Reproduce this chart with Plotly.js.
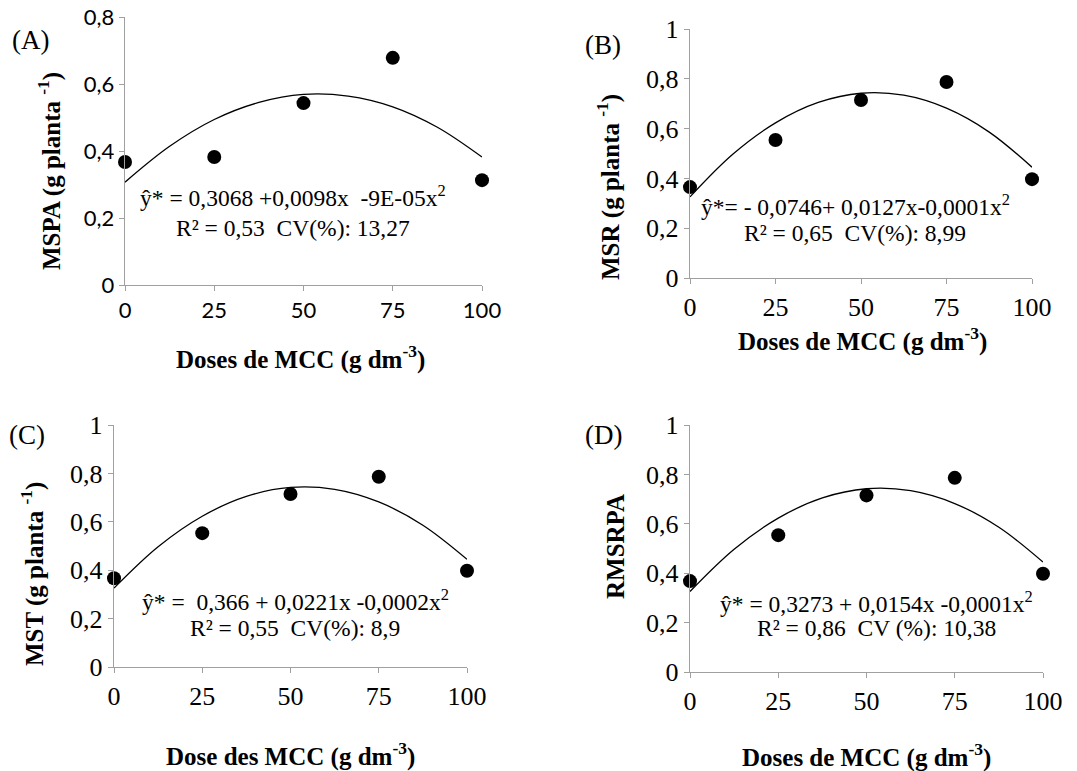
<!DOCTYPE html>
<html>
<head>
<meta charset="utf-8">
<script src="https://cdn.plot.ly/plotly-3.0.1.min.js"></script>
<style>html,body{margin:0;padding:0;background:#fff;}#chart{width:1077px;height:771px;}</style>
</head>
<body>
<div id="chart"></div>
<script>
// Doses (g dm-3)
const doses = [0, 25, 50, 75, 100];
const mspa = [0.367, 0.382, 0.543, 0.678, 0.313];
const msr = [0.365, 0.554, 0.715, 0.787, 0.397];
const mst = [0.367, 0.553, 0.715, 0.786, 0.398];
const rmsrpa = [0.368, 0.554, 0.715, 0.786, 0.398];
// Fitted trend curves at these doses
const curveX = [0, 12.5, 25, 37.5, 50, 62.5, 75, 87.5, 100];
const curveA = [0.307, 0.414, 0.494, 0.545, 0.569, 0.564, 0.532, 0.471, 0.382];
const curveB = [0.326, 0.497, 0.623, 0.705, 0.742, 0.734, 0.682, 0.586, 0.445];
const curveC = [0.326, 0.497, 0.623, 0.705, 0.742, 0.734, 0.682, 0.586, 0.445];
const curveD = [0.326, 0.497, 0.623, 0.705, 0.742, 0.734, 0.682, 0.586, 0.445];
// Texts
const panelLabels = ['(A)', '(B)', '(C)', '(D)'];
const yTitles = ['MSPA (g planta <sup>-1</sup>)', 'MSR (g planta <sup>-1</sup>)', 'MST (g planta <sup>-1</sup>)', 'RMSRPA'];
const xTitles = ['Doses de MCC (g dm<sup>-3</sup>)', 'Doses de MCC (g dm<sup>-3</sup>)', 'Dose des MCC (g dm<sup>-3</sup>)', 'Doses de MCC (g dm<sup>-3</sup>)'];
const eqLines = ['ŷ* = 0,3068 +0,0098x &nbsp;-9E-05x<sup>2</sup>', 'ŷ*= - 0,0746+ 0,0127x-0,0001x<sup>2</sup>', 'ŷ* = &nbsp;0,366 + 0,0221x -0,0002x<sup>2</sup>', 'ŷ* = 0,3273 + 0,0154x -0,0001x<sup>2</sup>'];
const statLines = ['R² = 0,53 &nbsp;CV(%): 13,27', 'R² = 0,65 &nbsp;CV(%): 8,99', 'R² = 0,55 &nbsp;CV(%): 8,9', 'R² = 0,86 &nbsp;CV (%): 10,38'];
const xTicks = [0, 25, 50, 75, 100];

const serif = 'Liberation Serif';
const sans = 'Lato';

const obs = [mspa, msr, mst, rmsrpa];
const curves = [curveA, curveB, curveC, curveD];
const data = [];
for (let i = 0; i < 4; i++) {
  const xa = i === 0 ? 'x' : 'x' + (i + 1);
  const ya = i === 0 ? 'y' : 'y' + (i + 1);
  data.push({x: curveX, y: curves[i], xaxis: xa, yaxis: ya, type: 'scatter', mode: 'lines',
    line: {color: '#000', width: 1.3, shape: 'spline', smoothing: 1}, hoverinfo: 'skip', showlegend: false, cliponaxis: false});
  data.push({x: doses, y: obs[i], xaxis: xa, yaxis: ya, type: 'scatter', mode: 'markers',
    marker: {color: '#000', size: 14}, showlegend: false, cliponaxis: false});
}

const W = 1077, H = 771;
// pixel boxes [left, right, top, bottom]
const boxes = [[125, 482, 17, 285], [690, 1032, 29, 278], [114, 467, 425, 667], [690, 1043, 425, 672]];
const yRanges = [[0, 0.8], [0, 1], [0, 1], [0, 1]];
const tickFonts = [sans, serif, serif, serif];
const tickSizes = [22, 26, 26, 26];

const layout = {width: W, height: H, margin: {l: 0, r: 0, t: 0, b: 0}, paper_bgcolor: '#fff', plot_bgcolor: '#fff',
  separators: ',.', showlegend: false, annotations: []};
for (let i = 0; i < 4; i++) {
  const b = boxes[i];
  const sx = i === 0 ? '' : String(i + 1);
  layout['xaxis' + sx] = {domain: [b[0] / W, b[1] / W], anchor: 'y' + sx, range: [0, 100], tickvals: xTicks,
    ticks: 'outside', ticklen: 5, tickcolor: '#a0a0a0', showline: true, linecolor: '#a0a0a0', linewidth: 1.3,
    showgrid: false, zeroline: false,
    tickfont: {family: tickFonts[i], size: tickSizes[i], color: '#000'}};
  layout['yaxis' + sx] = {domain: [1 - b[3] / H, 1 - b[2] / H], anchor: 'x' + sx, range: yRanges[i], dtick: 0.2,
    ticks: 'outside', ticklen: 5, tickcolor: '#a0a0a0', showline: true, linecolor: '#a0a0a0', linewidth: 1.3,
    showgrid: false, zeroline: false,
    tickfont: {family: tickFonts[i], size: tickSizes[i], color: '#000'}};
}
// axis titles, panel letters and equation texts (pixel centres)
const xTitlePos = [[300, 357], [862, 339], [290, 754], [866, 755]];
const yTitlePos = [[49, 171], [608, 187], [32, 574], [615, 547]];
const labelPos = [[30, 40], [603, 45], [27, 435], [603, 435]];
const eqPos = [[293, 196], [855, 205], [295, 600], [876, 602]];
const statPos = [[293, 228], [855, 233], [295, 628], [876, 628]];
const P = (p) => ({xref: 'paper', yref: 'paper', x: p[0] / W, y: 1 - p[1] / H, showarrow: false, xanchor: 'center', yanchor: 'middle'});
for (let i = 0; i < 4; i++) {
  layout.annotations.push(Object.assign(P(xTitlePos[i]), {text: xTitles[i], font: {family: serif, size: 25, color: '#000', weight: 'bold'}}));
  layout.annotations.push(Object.assign(P(yTitlePos[i]), {text: yTitles[i], textangle: -90, font: {family: serif, size: 25, color: '#000', weight: 'bold'}}));
  layout.annotations.push(Object.assign(P(labelPos[i]), {text: panelLabels[i], font: {family: serif, size: 27, color: '#000'}}));
  layout.annotations.push(Object.assign(P(eqPos[i]), {text: eqLines[i], font: {family: serif, size: 23.5, color: '#000'}}));
  layout.annotations.push(Object.assign(P(statPos[i]), {text: statLines[i], font: {family: serif, size: 23.5, color: '#000'}}));
}
Plotly.newPlot('chart', data, layout, {displayModeBar: false, staticPlot: true});
</script>
</body>
</html>
